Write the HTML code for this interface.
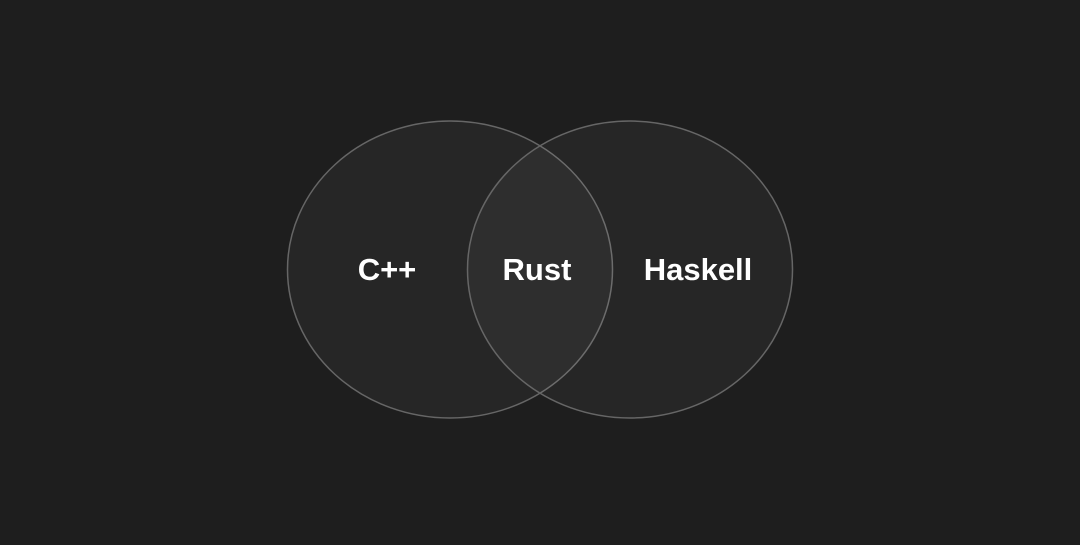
<!DOCTYPE html>
<html><head><style>
html,body{margin:0;padding:0;background:#1e1e1e;}
</style></head><body>
<svg width="1080" height="540" viewBox="0 0 1080 540" xmlns="http://www.w3.org/2000/svg">
<rect width="1080" height="540" fill="#1e1e1e"/>
<ellipse cx="450" cy="269.5" rx="162.5" ry="148.5" fill="rgba(255,255,255,0.038)" stroke="#666" stroke-width="1.5"/>
<ellipse cx="630" cy="269.5" rx="162.5" ry="148.5" fill="rgba(255,255,255,0.038)" stroke="#666" stroke-width="1.5"/>
<g font-family="Liberation Sans, sans-serif" font-weight="bold" font-size="31" fill="#ffffff" text-anchor="middle">
<text x="387" y="280">C++</text>
<text x="537" y="280">Rust</text>
<text x="698" y="280">Haskell</text>
</g>
</svg>
</body></html>
